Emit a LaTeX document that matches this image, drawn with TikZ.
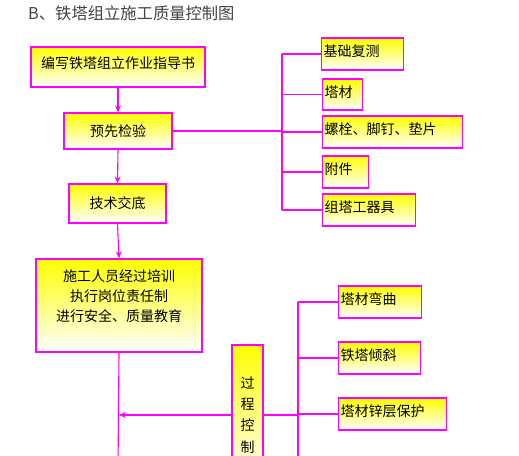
\documentclass[tikz,border=0pt]{standalone}
\usepackage{fontspec}
\newfontfamily\cjk{Noto Sans CJK SC}
\usetikzlibrary{arrows.meta}
\definecolor{mag}{HTML}{FF00FF}
\definecolor{ttl}{HTML}{444444}
\tikzset{
  box/.style={draw=mag, line width=1.3pt, top color=yellow, bottom color=white,
    shading angle=0, inner sep=0pt, font=\cjk\fontsize{14}{20}\selectfont},
  conn/.style={draw=mag, line width=1.1pt},
  arr/.style={conn, -{Stealth[length=7pt,width=6pt,inset=2.5pt]}},
}
\begin{document}
\begin{tikzpicture}[x=1pt,y=-1pt]
\useasboundingbox (0,0) rectangle (519,455);
\clip (0,0) rectangle (519,455);
% title
\node[font=\cjk\fontsize{16.3}{18}\selectfont, text=ttl, anchor=west, inner xsep=0pt] (title) at (28,13) {B、铁塔组立施工质量控制图};
% left column
\node[box, minimum width=174pt, minimum height=40pt, text depth=9pt] (b1) at (118,67) {编写铁塔组立作业指导书};
\node[box, minimum width=108pt, minimum height=36pt] (b2) at (118,131) {预先检验};
\node[box, minimum width=97pt, minimum height=39pt] (b3) at (117.5,203.5) {技术交底};
\node[box, minimum width=166pt, minimum height=93pt, align=center, text depth=19pt] (b4) at (119,305.5) {施工人员经过培训\\执行岗位责任制\\进行安全、质量教育};
\node[box, minimum width=31pt, minimum height=140pt, align=center, font=\cjk\fontsize{14}{21.3}\selectfont] (pc) at (247.5,415) {过\\程\\控\\制};
% upper right boxes
\node[box, minimum width=82pt, minimum height=32pt, anchor=west, text width=78pt, align=left, inner xsep=2pt, text depth=6pt] (r1) at (321,54) {基础复测};
\node[box, minimum width=40pt, minimum height=31pt, anchor=west, text width=36pt, align=left, inner xsep=2pt, text depth=6pt] (r2) at (322,94.5) {塔材};
\node[box, minimum width=140pt, minimum height=32pt, anchor=west, text width=136pt, align=left, inner xsep=2pt, text depth=6pt] (r3) at (322,132) {螺栓、脚钉、垫片};
\node[box, minimum width=46pt, minimum height=32pt, anchor=west, text width=42pt, align=left, inner xsep=2pt, text depth=6pt] (r4) at (322,172) {附件};
\node[box, minimum width=93pt, minimum height=32pt, anchor=west, text width=89pt, align=left, inner xsep=2pt, text depth=6pt] (r5) at (322,210) {组塔工器具};
% lower right boxes
\node[box, minimum width=83pt, minimum height=32pt, anchor=west, text width=79pt, align=left, inner xsep=2pt, text depth=6pt] (s1) at (338,302) {塔材弯曲};
\node[box, minimum width=82pt, minimum height=32pt, anchor=west, text width=78pt, align=left, inner xsep=2pt, text depth=6pt] (s2) at (338,358) {铁塔倾斜};
\node[box, minimum width=108pt, minimum height=32pt, anchor=west, text width=104pt, align=left, inner xsep=2pt, text depth=6pt] (s3) at (338,414) {塔材锌层保护};
% bus coordinates
\coordinate (busA) at (282,131);
\coordinate (busB) at (298,415);
\coordinate (bottom) at (118,470);
\coordinate (busBend) at (298,470);
% connectors left column
\draw[arr] (b1.south) -- (b2.north);
\draw[arr] (b2.south) -- (b3.north);
\draw[arr] (b3.south) -- (b4.north);
\draw[conn] (b4.south) -- (bottom);
\draw[arr] (pc.west) -- (pc.west -| b4.south);
% upper bus
\draw[conn] (b2.east) -- (busA);
\draw[conn] (r1.west -| busA) -- (r5.west -| busA);
\foreach \r in {r1,r2,r3,r4,r5} \draw[conn] (\r.west -| busA) -- (\r.west);
% lower bus
\draw[conn] (pc.east) -- (busB);
\draw[conn] (s1.west -| busB) -- (busBend);
\foreach \s in {s1,s2,s3} \draw[conn] (\s.west -| busB) -- (\s.west);
\end{tikzpicture}
\end{document}
